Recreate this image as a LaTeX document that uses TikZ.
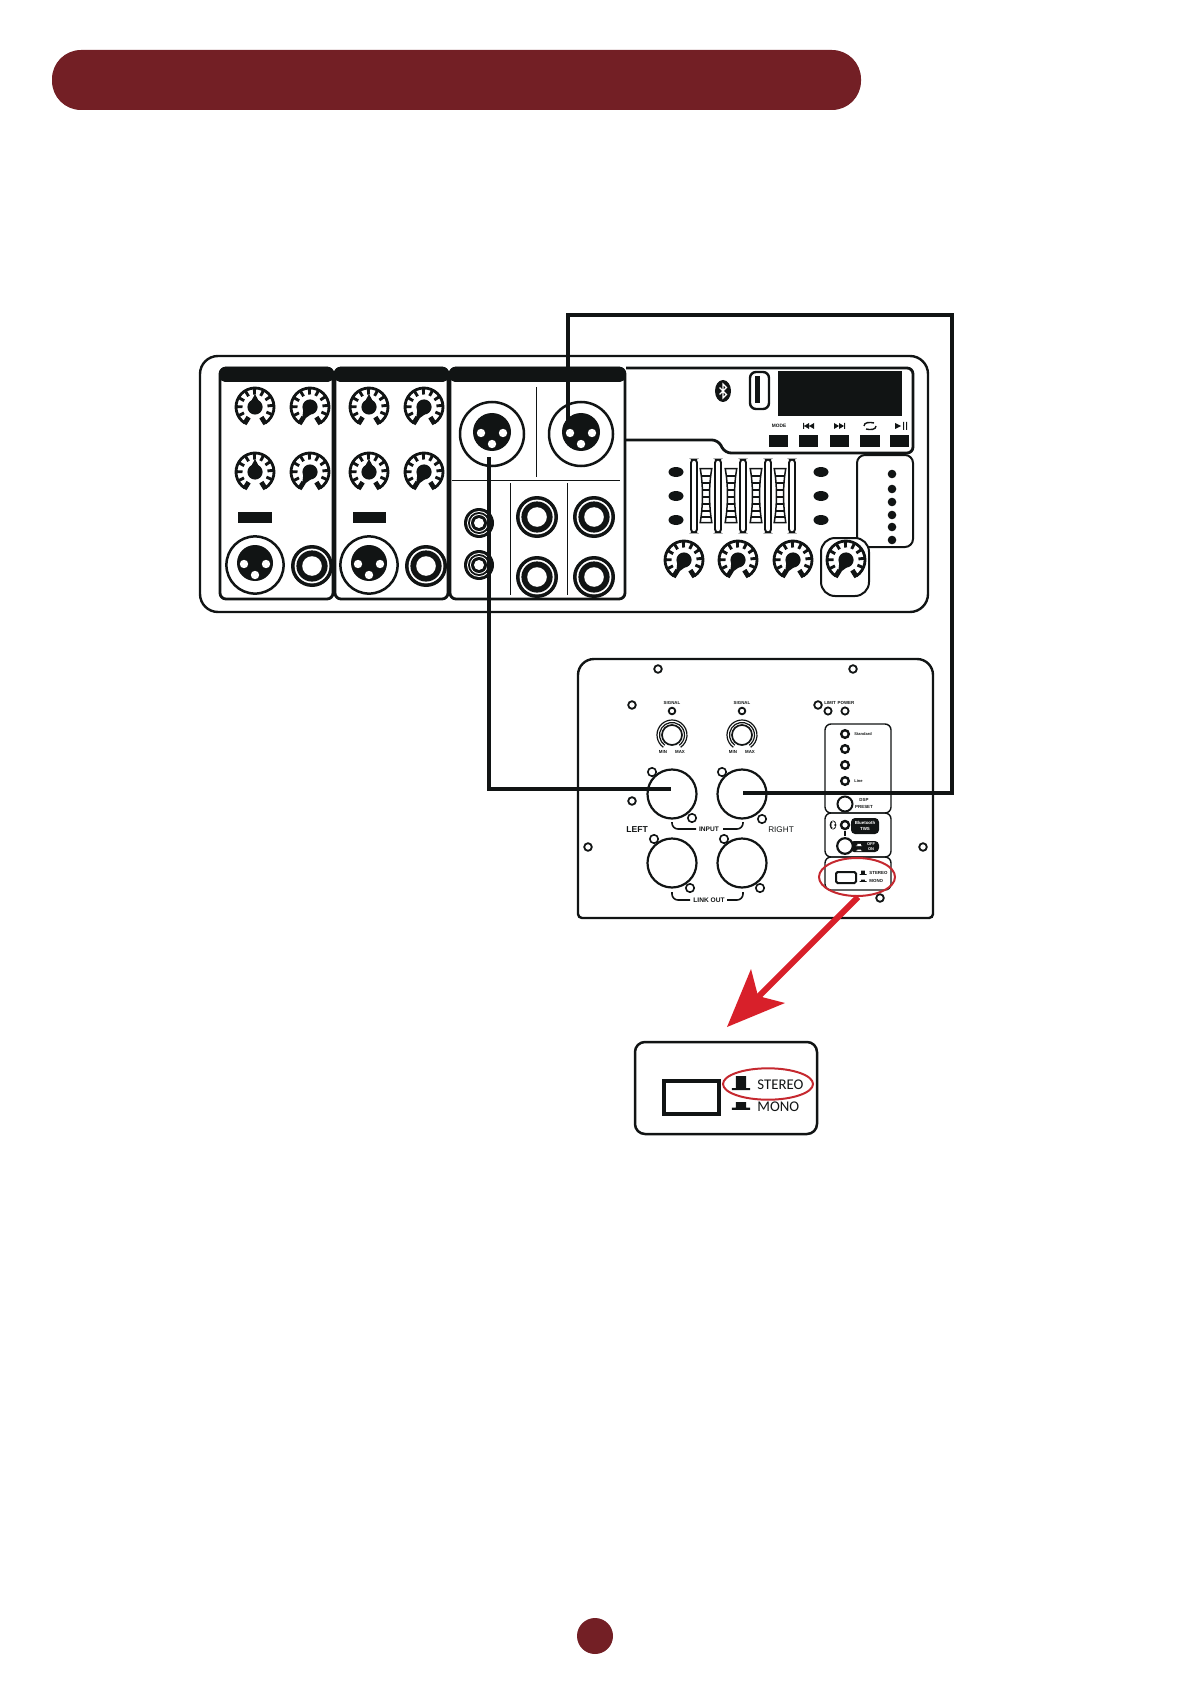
\documentclass[tikz,border=0pt]{standalone}
\usepackage{fontspec}
\setmainfont{Liberation Sans}
\newfontfamily\capfont{Carlito}
\definecolor{wine}{HTML}{731F25}
\definecolor{ink}{HTML}{111414}
\definecolor{redarrow}{HTML}{D8202A}
\definecolor{redring}{HTML}{C5282F}
\tikzset{
  stripline/.style={draw=ink,line width=1.4pt,rounded corners=3pt},
  cable/.style={draw=ink,line width=2.1pt,line join=miter},
  thinrule/.style={draw=ink,line width=0.4pt},
  tinylbl/.style={inner sep=0pt,font=\fontsize{2.2}{3.4}\selectfont\bfseries,text=ink,align=center},
  midlbl/.style={inner sep=0pt,font=\fontsize{3.3}{4}\selectfont\bfseries,text=ink},
  sidelbl/.style={inner sep=0pt,text=ink},
  whitelbl/.style={inner sep=0pt,font=\fontsize{2.2}{2.9}\selectfont\bfseries,text=white,align=center},
  screw/.style={draw=ink,line width=0.9pt,fill=white},
  ledring/.style={draw=ink,line width=1.2pt,fill=white},
  roundknob/.style={draw=ink,line width=0.85pt,fill=white},
  detaillbl/.style={inner sep=0pt,anchor=west,font=\fontsize{7.4}{8}\capfont,text=ink},
}
\newcommand{\mydial}[4]{% x y visual angle tip
\begin{scope}[shift={(#1,#2)}]
  \draw[ink,line width=1.4pt] (122:19) arc[start angle=122,end angle=418,radius=19];
  \foreach \t in {152,181,210,239,268,297,326,355,384}{\draw[ink,line width=1.45pt] (\t:12.5) -- (\t:19);}
  \draw[ink,line width=2.4pt] (122:12) -- (122:20);
  \draw[ink,line width=2.4pt] (418:12) -- (418:20);
  \fill[ink] (0,0) circle[radius=7.6];
  \fill[ink,rotate=#3] (0,-7) -- (#4,0) -- (0,7) -- cycle;
\end{scope}}
\newcommand{\myxlr}[4]{% x y outer inner
\begin{scope}[shift={(#1,#2)}]
  \draw[ink,fill=white,line width=1.25pt] (0,0) circle[radius=#3];
  \fill[ink] (0,-2) circle[radius=#4];
  \fill[white] (-11,-1) circle[radius=4.2] (11,-1) circle[radius=4.2] (0,10) circle[radius=4.2];
\end{scope}}
\newcommand{\myjack}[2]{\begin{scope}[shift={(#1,#2)}]
  \fill[ink] (0,0) circle[radius=21];
  \fill[white] (0,0) circle[radius=17.4];
  \fill[ink] (0,0) circle[radius=15.6];
  \fill[white] (0,0) circle[radius=9.8];
\end{scope}}
\newcommand{\myrca}[2]{\begin{scope}[shift={(#1,#2)}]
  \fill[ink] (0,0) circle[radius=15];
  \fill[white] (0,0) circle[radius=12];
  \fill[ink] (0,0) circle[radius=11];
  \fill[white] (0,0) circle[radius=9];
  \fill[ink] (0,0) circle[radius=8];
  \fill[white] (0,0) circle[radius=5];
\end{scope}}
\newcommand{\myoval}[2]{\fill[ink] (#1,#2) ellipse[x radius=7.5,y radius=5];}
\newcommand{\mymeter}[1]{\begin{scope}[shift={(#1,0)}]
  \begin{scope}
    \clip (-5.8,468.5) .. controls (-2.8,485) and (-2.8,505) .. (-5.8,522.5) -- (5.8,522.5) .. controls (2.8,505) and (2.8,485) .. (5.8,468.5) -- cycle;
    \foreach \r in {476,483,490,497,504,511,517}{\draw[ink,line width=0.7pt] (-8,\r) -- (8,\r);}
  \end{scope}
  \draw[ink,line width=0.75pt] (-5.8,468.5) .. controls (-2.8,485) and (-2.8,505) .. (-5.8,522.5) -- (5.8,522.5) .. controls (2.8,505) and (2.8,485) .. (5.8,468.5) -- cycle;
\end{scope}}
\newcommand{\mybt}[3]{\begin{scope}[shift={(#1,#2)},scale=#3]
  \fill[ink] (0,0) ellipse[x radius=8,y radius=11];
  \draw[white,line width=0.6pt] (-3.5,-3.5) -- (3.5,3.5) -- (0,7) -- (0,-7) -- (3.5,-3.5) -- (-3.5,3.5);
\end{scope}}
\newcommand{\myhat}[6]{\fill[#6] ({#1-#3},#2) rectangle ({#1+#3},{#2+#4}) ({#1-#3*0.55},#2) rectangle ({#1+#3*0.55},{#2-#5});}
\begin{document}
\begin{tikzpicture}[x=0.5pt,y=-0.5pt]
\useasboundingbox (0,0) rectangle (1191,1684);
% page furniture
\fill[wine,rounded corners=14.5pt] (52,50) rectangle (861,110);
\fill[wine] (595,1636) circle[radius=18];

% mixer body
\draw[ink,line width=1.2pt,rounded corners=9pt] (200,356) rectangle (928,612);
% strips
\draw[stripline] (220,368) rectangle (333,599);
\draw[stripline] (335,368) rectangle (448,599);
\draw[stripline] (450,368) rectangle (625,599);
\fill[ink,rounded corners=2.5pt] (220,367) rectangle (333,382);
\fill[ink,rounded corners=2.5pt] (335,367) rectangle (448,382);
\fill[ink,rounded corners=2.5pt] (450,367) rectangle (625,382);
% channel knobs
\mydial{255}{407}{90}{13}
\mydial{310}{407}{240}{16}
\mydial{255}{472}{90}{13}
\mydial{310}{472}{240}{16}
\mydial{369}{407}{90}{13}
\mydial{424}{407}{240}{16}
\mydial{369}{472}{90}{13}
\mydial{424}{472}{240}{16}
\fill[ink] (238,512) rectangle (272,523);
\fill[ink] (353,512) rectangle (386,523);
\myxlr{255}{565}{28.6}{18}
\myxlr{369}{565}{28.6}{18}
\myjack{312}{566}
\myjack{426}{566}
% main strip
\draw[thinrule] (536,387) -- (536,477);
\draw[thinrule] (452,480) -- (620,480);
\draw[thinrule] (510,483) -- (510,595);
\draw[thinrule] (567,483) -- (567,595);
\myxlr{492}{434}{32}{19}
\myxlr{581}{434}{32}{19}
\myrca{479}{523}
\myrca{479}{565}
\myjack{537}{517}
\myjack{594}{517}
\myjack{537}{577}
\myjack{594}{577}
% digital panel
\draw[stripline] (626,368) -- (913,368) -- (913,453) -- (725,453) -- (718,440) -- (626,440);
\mybt{723}{391}{1}
\draw[ink,line width=1.2pt,rounded corners=3pt] (750,372) rectangle (769,409);
\fill[ink] (755,376) rectangle (760,403);
\fill[ink] (778,371) rectangle (902,416);
\node[tinylbl,font=\fontsize{2.4}{3}\selectfont\bfseries] (modelbl) at (779,426) {MODE};
\fill[ink] (803,423) rectangle (804,429) (809,423) -- (804,426) -- (809,429) -- cycle (814,423) -- (809,426) -- (814,429) -- cycle;
\fill[ink] (834,423) -- (839,426) -- (834,429) -- cycle (839,423) -- (844,426) -- (839,429) -- cycle (844,423) rectangle (845,429);
\draw[ink,line width=0.7pt] (864,426) .. controls (864,422) and (870,422) .. (874,423);
\draw[ink,line width=0.7pt] (876,426) .. controls (876,430) and (870,430) .. (866,429);
\fill[ink] (895,423) -- (901,426) -- (895,429) -- cycle (903,422) rectangle (904,430) (906,422) rectangle (907,430);
\fill[ink] (769,435) rectangle (788,447);
\fill[ink] (799,435) rectangle (818,447);
\fill[ink] (830,435) rectangle (849,447);
\fill[ink] (860,435) rectangle (880,447);
\fill[ink] (890,435) rectangle (909,447);
% faders
\foreach \f in {694,718,743,768,792}{\draw[ink,line width=0.95pt,rounded corners=1.6pt] ({\f-3},459.5) rectangle ({\f+3},532.5);}
\mymeter{706}\mymeter{731}\mymeter{756}\mymeter{780}
\myoval{676}{472}\myoval{676}{496}\myoval{676}{520}
\myoval{821}{472}\myoval{821}{496}\myoval{821}{520}
% meter panel
\draw[ink,line width=1pt,rounded corners=4pt] (857,455) rectangle (913,547);
\foreach \d in {474,489,502,515,527,540}{\fill[ink] (892,\d) circle[radius=4.3];}
\draw[ink,fill=white,line width=1pt,rounded corners=7pt] (821,538) rectangle (869,596);
\mydial{684}{560}{240}{16}
\mydial{738}{560}{240}{16}
\mydial{793}{560}{240}{16}
\mydial{846}{560}{240}{16}

% rear panel
\draw[ink,line width=1.2pt,rounded corners=8pt] (578,800) -- (578,659) -- (933,659) -- (933,800) [rounded corners=2pt] -- (933,918) -- (578,918) -- cycle;
\foreach \p/\q in {658/669,853/669,632/705,632/801,588/847,923/847,818/705,880/898}{\draw[screw] (\p,\q) circle[radius=3.8];}
\node[tinylbl] (sigl) at (672,703) {SIGNAL};
\node[tinylbl] (sigr) at (742,703) {SIGNAL};
\draw[screw] (672,711) circle[radius=3.3];
\draw[screw] (742,711) circle[radius=3.3];
\foreach \k in {672,742}{
  \draw[roundknob] (\k,735) circle[radius=10];
  \begin{scope}[shift={(\k,735)}]
    \draw[ink,line width=0.6pt] (125:12.5) arc[start angle=125,end angle=415,radius=12.5];
    \draw[ink,line width=0.6pt] (125:15) arc[start angle=125,end angle=415,radius=15];
  \end{scope}
}
\node[tinylbl] (minl) at (663,752) {MIN};
\node[tinylbl] (maxl) at (680,752) {MAX};
\node[tinylbl] (minr) at (733,752) {MIN};
\node[tinylbl] (maxr) at (750,752) {MAX};
\node[tinylbl] (limit) at (830,703) {LIMIT};
\node[tinylbl] (power) at (846,703) {POWER};
\draw[screw] (828,711) circle[radius=3.6];
\draw[screw] (845,711) circle[radius=3.6];
% XLR holes
\foreach \a/\b in {672/794,742/794,672/863,742/863}{\draw[ink,line width=1.1pt,fill=white] (\a,\b) circle[radius=24.5];}
\foreach \a/\b in {652/772,692/818,722/772,762/819,654/839,690/888,724/839,760/888}{\draw[screw,line width=0.8pt] (\a,\b) circle[radius=4.2];}
\draw[ink,line width=0.8pt,rounded corners=3pt] (672,822) -- (672,829) -- (696,829);
\draw[ink,line width=0.8pt,rounded corners=3pt] (723,829) -- (743,829) -- (743,822);
\draw[ink,line width=0.8pt,rounded corners=3pt] (672,892) -- (672,900) -- (690,900);
\draw[ink,line width=0.8pt,rounded corners=3pt] (727,900) -- (743,900) -- (743,892);
\node[midlbl] (inputl) at (709,829) {INPUT};
\node[midlbl] (linkout) at (709,900) {LINK OUT};
\node[sidelbl,font=\fontsize{4.3}{5}\selectfont\bfseries] (leftlbl) at (637,830) {LEFT};
\node[sidelbl,font=\fontsize{4.1}{5}\selectfont] (rightlbl) at (781,830) {RIGHT};
% control column
\draw[ink,line width=0.7pt,rounded corners=3pt] (825,724) rectangle (891,813);
\draw[ink,line width=0.7pt,rounded corners=3pt] (825,813) rectangle (891,857);
\draw[ink,line width=0.7pt,rounded corners=3pt] (825,857) rectangle (891,890);
\foreach \y in {734,749,765,781}{\draw[ledring] (845,\y) circle[radius=3.8];}
\node[tinylbl,anchor=west,font=\fontsize{2}{3}\selectfont\bfseries] (std) at (854,734) {Standard};
\node[tinylbl,anchor=west,font=\fontsize{2}{3}\selectfont\bfseries] (lne) at (854,781.5) {Line};
\draw[ink,fill=white,line width=1pt] (845,804) circle[radius=7.5];
\node[tinylbl] (dsp) at (864,803.5) {DSP\\PRESET};
\mybt{833}{825}{0.42}
\draw[ledring] (845,825) circle[radius=4];
\fill[ink,rounded corners=2pt] (851,818) rectangle (879,834);
\node[whitelbl] (bt) at (865,826) {Bluetooth\\TWS};
\draw[ink,line width=0.6pt] (845,831) -- (845,836);
\fill[ink,rounded corners=2pt] (850,841) rectangle (879,852);
\draw[ink,fill=white,line width=1.1pt] (845,846) circle[radius=7.8];
\myhat{859}{845.5}{3.2}{0.6}{1.6}{white}
\myhat{859}{850.5}{3.2}{0.6}{1}{white}
\node[whitelbl,font=\fontsize{2}{2.6}\selectfont\bfseries] (onoff) at (871,846.5) {OFF\\ON};
\draw[ink,line width=1pt,rounded corners=0.8pt] (836,872) rectangle (856,883);
\myhat{863}{874}{3.5}{0.8}{3.5}{ink}
\myhat{863}{881}{3.5}{0.8}{1.5}{ink}
\node[tinylbl,anchor=west] (stereosm) at (869,873) {STEREO};
\node[tinylbl,anchor=west] (monosm) at (869,880.5) {MONO};
\draw[redring,line width=1pt] (857,877) ellipse[x radius=38,y radius=19];

% connection coordinates
\coordinate (xlrR) at (568,420);
\coordinate (xlrL) at (489,457);
\coordinate (inR) at (743,793);
\coordinate (inL) at (671,789);
\coordinate (bendRa) at (568,315);
\coordinate (bendRb) at (952,315);
\coordinate (bendRc) at (952,793);
\coordinate (bendL) at (489,789);
\draw[cable] (xlrR) -- (bendRa) -- (bendRb) -- (bendRc) -- (inR);
\draw[cable] (xlrL) -- (bendL) -- (inL);

% red callout arrow
\coordinate (arrowstart) at (858,897);
\coordinate (arrowneck) at (758,997);
\draw[redarrow,line width=3pt] (arrowstart) -- (arrowneck);
\fill[redarrow] (727,1027) -- (751,969) -- (758,996) -- (785,1003) -- cycle;

% detail box
\draw[ink,line width=1.25pt,rounded corners=5pt] (635,1042) rectangle (817,1134);
\draw[ink,line width=2.3pt] (664,1081) rectangle (719,1114);
\myhat{741}{1088}{9.2}{2.2}{12}{ink}
\myhat{741}{1107.5}{9.2}{2.3}{5.5}{ink}
\node[detaillbl] (stereo) at (757,1085) {STEREO};
\node[detaillbl] (mono) at (757,1107) {MONO};
\draw[redring,line width=1pt] (768,1084) ellipse[x radius=45,y radius=15.7];
\end{tikzpicture}
\end{document}
